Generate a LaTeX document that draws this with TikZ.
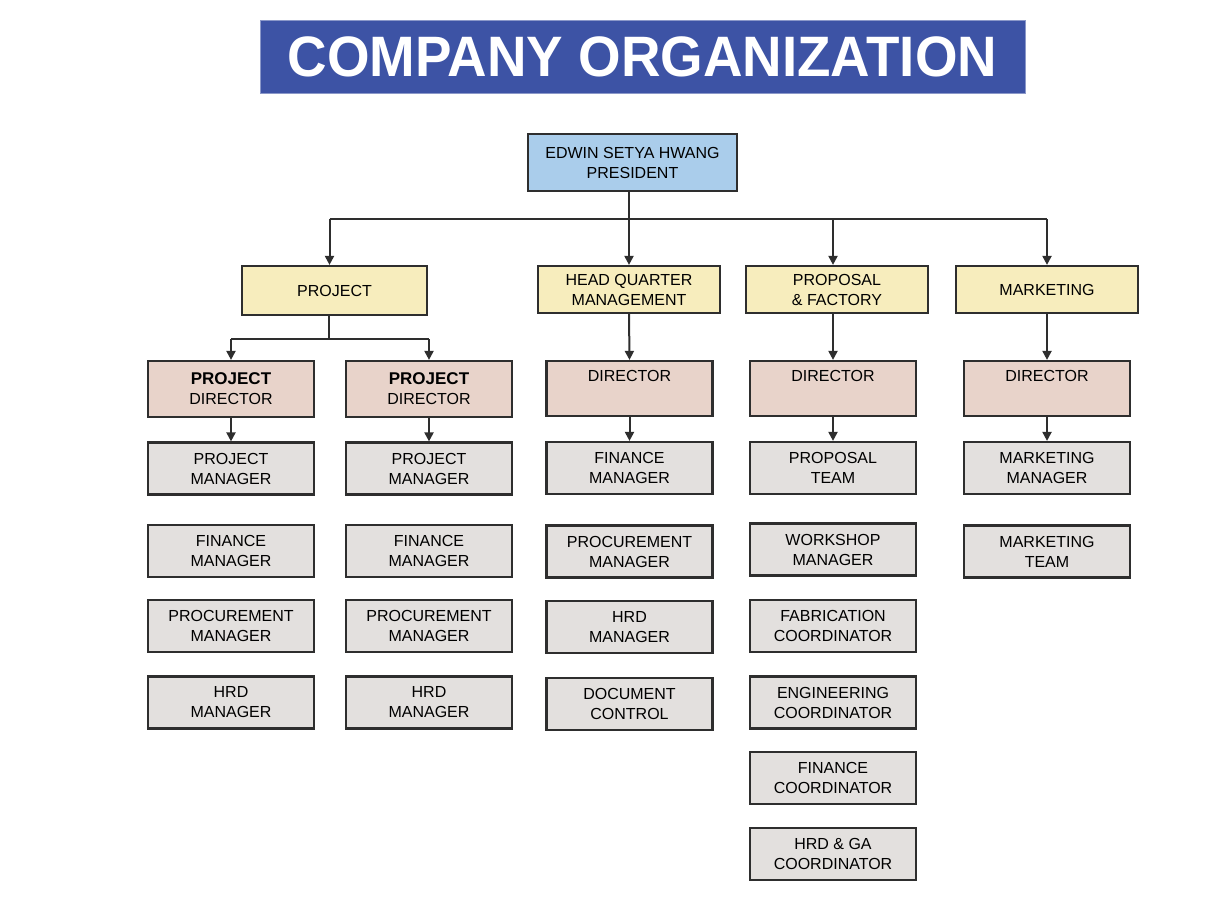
\documentclass[tikz,border=0pt]{standalone}
\usepackage{fontspec}
\setmainfont{Liberation Sans}
\usetikzlibrary{arrows.meta,calc}
\definecolor{titleblue}{HTML}{3D53A5}
\definecolor{presblue}{HTML}{AACDEB}
\definecolor{lvlyellow}{HTML}{F7EDBD}
\definecolor{dirpink}{HTML}{E8D3CA}
\definecolor{mgrgray}{HTML}{E3E0DE}
\definecolor{edge}{HTML}{2E2E2E}
\tikzset{
  box/.style={draw=edge, line width=2.2pt, rectangle, align=center, inner sep=0pt,
    minimum width=166pt, minimum height=52pt, font=\fontsize{16}{20}\selectfont, text=black},
  presbox/.style={box, fill=presblue, minimum width=209pt, minimum height=57pt},
  lvlbox/.style={box, fill=lvlyellow, minimum width=182pt, minimum height=47pt},
  dirbox/.style={box, fill=dirpink, minimum height=55pt},
  mgrbox/.style={box, fill=mgrgray},
  link/.style={draw=edge, line width=2pt},
  arr/.style={link, -{Triangle[length=9pt,width=9pt]}}
}
\begin{document}
\begin{tikzpicture}[x=1pt,y=-1pt]
\useasboundingbox (0,0) rectangle (1222,906);
% title
\node[fill=titleblue, draw=titleblue!60!white, line width=1pt, minimum width=765pt, minimum height=73pt,
  inner sep=0pt, text=white, font=\bfseries\fontsize{57}{60}\selectfont] (title) at (642.5,56.5)
  {\scalebox{0.96}[1]{COMPANY ORGANIZATION}};
% president
\node[presbox] (pres) at (632.5,162.5) {EDWIN SETYA HWANG\\PRESIDENT};
% level 2
\node[lvlbox, minimum width=185pt, minimum height=49pt] (proj) at (334.5,290.5) {PROJECT};
\node[lvlbox] (hq) at (629,289.5) {HEAD QUARTER\\MANAGEMENT};
\node[lvlbox] (pf) at (837,289.5) {PROPOSAL\\\& FACTORY};
\node[lvlbox] (mk) at (1047,289.5) {MARKETING};
% directors
\node[dirbox, minimum height=56pt] (pd1) at (231,389) {{\bfseries\fontsize{17}{20}\selectfont PROJECT}\\DIRECTOR};
\node[dirbox, minimum height=56pt] (pd2) at (429,389) {{\bfseries\fontsize{17}{20}\selectfont PROJECT}\\DIRECTOR};
\node[dirbox] (hqd) at (629.5,388.5) {DIRECTOR\\\strut};
\node[dirbox] (pfd) at (833,388.5) {DIRECTOR\\\strut};
\node[dirbox] (mkd) at (1047,388.5) {DIRECTOR\\\strut};
% column 1
\node[mgrbox] (pm1) at (231,468.5) {PROJECT\\MANAGER};
\node[mgrbox] (fm1) at (231,551) {FINANCE\\MANAGER};
\node[mgrbox] (prm1) at (231,626) {PROCUREMENT\\MANAGER};
\node[mgrbox] (hrd1) at (231,702.5) {HRD\\MANAGER};
% column 2
\node[mgrbox] (pm2) at (429,468.5) {PROJECT\\MANAGER};
\node[mgrbox] (fm2) at (429,551) {FINANCE\\MANAGER};
\node[mgrbox] (prm2) at (429,626) {PROCUREMENT\\MANAGER};
\node[mgrbox] (hrd2) at (429,702.5) {HRD\\MANAGER};
% column 3
\node[mgrbox] (fm3) at (629.5,468) {FINANCE\\MANAGER};
\node[mgrbox] (prm3) at (629.5,551.5) {PROCUREMENT\\MANAGER};
\node[mgrbox] (hrd3) at (629.5,627) {HRD\\MANAGER};
\node[mgrbox] (dc3) at (629.5,704) {DOCUMENT\\CONTROL};
% column 4
\node[mgrbox] (pt4) at (833,468) {PROPOSAL\\TEAM};
\node[mgrbox] (wm4) at (833,549.5) {WORKSHOP\\MANAGER};
\node[mgrbox] (fc4) at (833,626) {FABRICATION\\COORDINATOR};
\node[mgrbox] (ec4) at (833,702.5) {ENGINEERING\\COORDINATOR};
\node[mgrbox] (fic4) at (833,778) {FINANCE\\COORDINATOR};
\node[mgrbox] (hga4) at (833,854) {HRD \& GA\\COORDINATOR};
% column 5
\node[mgrbox] (mm5) at (1047,468) {MARKETING\\MANAGER};
\node[mgrbox] (mt5) at (1047,551.5) {MARKETING\\TEAM};
% connectors
\coordinate (bus) at (0,219);
\coordinate (pj) at (0,339);
\coordinate (projtop) at ($(proj.north)+(-5,0)$);
\coordinate (projbot) at ($(proj.south)+(-6,0)$);
\coordinate (pftop) at (pfd.north |- pf.north);
\draw[link] (pres.south -| hq.north) -- (hq.north |- bus);
\draw[link] (projtop |- bus) -- (mk.north |- bus);
\draw[arr] (projtop |- bus) -- (projtop);
\draw[arr] (hq.north |- bus) -- (hq.north);
\draw[arr] (pftop |- bus) -- (pftop);
\draw[arr] (mk.north |- bus) -- (mk.north);
\draw[link] (projbot) -- (projbot |- pj);
\draw[link] (pd1.north |- pj) -- (pd2.north |- pj);
\draw[arr] (pd1.north |- pj) -- (pd1.north);
\draw[arr] (pd2.north |- pj) -- (pd2.north);
\draw[arr] (hq.south) -- (hqd.north);
\draw[arr] (pf.south -| pfd.north) -- (pfd.north);
\draw[arr] (mk.south) -- (mkd.north);
\draw[arr] (pd1.south) -- (pm1.north);
\draw[arr] (pd2.south) -- (pm2.north);
\draw[arr] (hqd.south) -- (fm3.north);
\draw[arr] (pfd.south) -- (pt4.north);
\draw[arr] (mkd.south) -- (mm5.north);
\end{tikzpicture}
\end{document}
